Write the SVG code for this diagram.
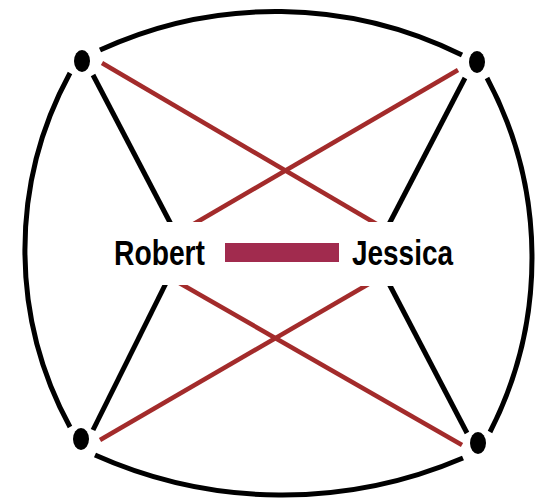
<svg xmlns="http://www.w3.org/2000/svg" width="543" height="499" viewBox="0 0 543 499">
<style>
.frame{fill:none;stroke:#000;stroke-width:5}
.blk{stroke:#000;stroke-width:5;fill:none}
.red{stroke:#A32B2B;stroke-width:4.5;fill:none}
.bar{fill:#A12B4E}
.node{fill:#000}
.box{fill:#fff}
.lbl{font-family:"Liberation Sans",Arial,sans-serif;font-weight:bold;font-size:35px;fill:#000}
</style>
<rect width="543" height="499" fill="#fff"/>
<g id="connectors">
<path class="frame" d="M100,50 A420,420 0 0 1 462,55"/>
<path class="frame" d="M70,73 A370,370 0 0 0 70,427"/>
<path class="frame" d="M487,78 A382,382 0 0 1 490,432"/>
<path class="frame" d="M95,455 A459,459 0 0 0 463,458"/>
<line class="blk" x1="93" y1="75" x2="186" y2="253"/>
<line class="blk" x1="93" y1="430" x2="181" y2="253"/>
<line class="blk" x1="465" y1="78" x2="374" y2="253"/>
<line class="blk" x1="467" y1="433" x2="373" y2="253"/>
<line class="red" x1="102" y1="63" x2="426" y2="253"/>
<line class="red" x1="458" y1="70" x2="144" y2="253"/>
<line class="red" x1="100" y1="440" x2="422" y2="253"/>
<line class="red" x1="462" y1="445" x2="127" y2="253"/>
<rect class="bar" x="225" y="243" width="114" height="19"/>
</g>
<g id="robert">
<rect class="box" x="105" y="222" width="113" height="63"/>
<text class="lbl" x="114" y="265" textLength="91" lengthAdjust="spacingAndGlyphs">Robert</text>
</g>
<g id="jessica">
<rect class="box" x="345" y="222" width="118" height="64"/>
<text class="lbl" x="352" y="265" textLength="101" lengthAdjust="spacingAndGlyphs">Jessica</text>
</g>
<g id="n-tl"><ellipse class="node" cx="82" cy="61" rx="8" ry="11"/></g>
<g id="n-tr"><ellipse class="node" cx="477" cy="62" rx="8" ry="11"/></g>
<g id="n-bl"><ellipse class="node" cx="81" cy="439" rx="8" ry="11"/></g>
<g id="n-br"><ellipse class="node" cx="478" cy="443" rx="8" ry="11"/></g>
</svg>
